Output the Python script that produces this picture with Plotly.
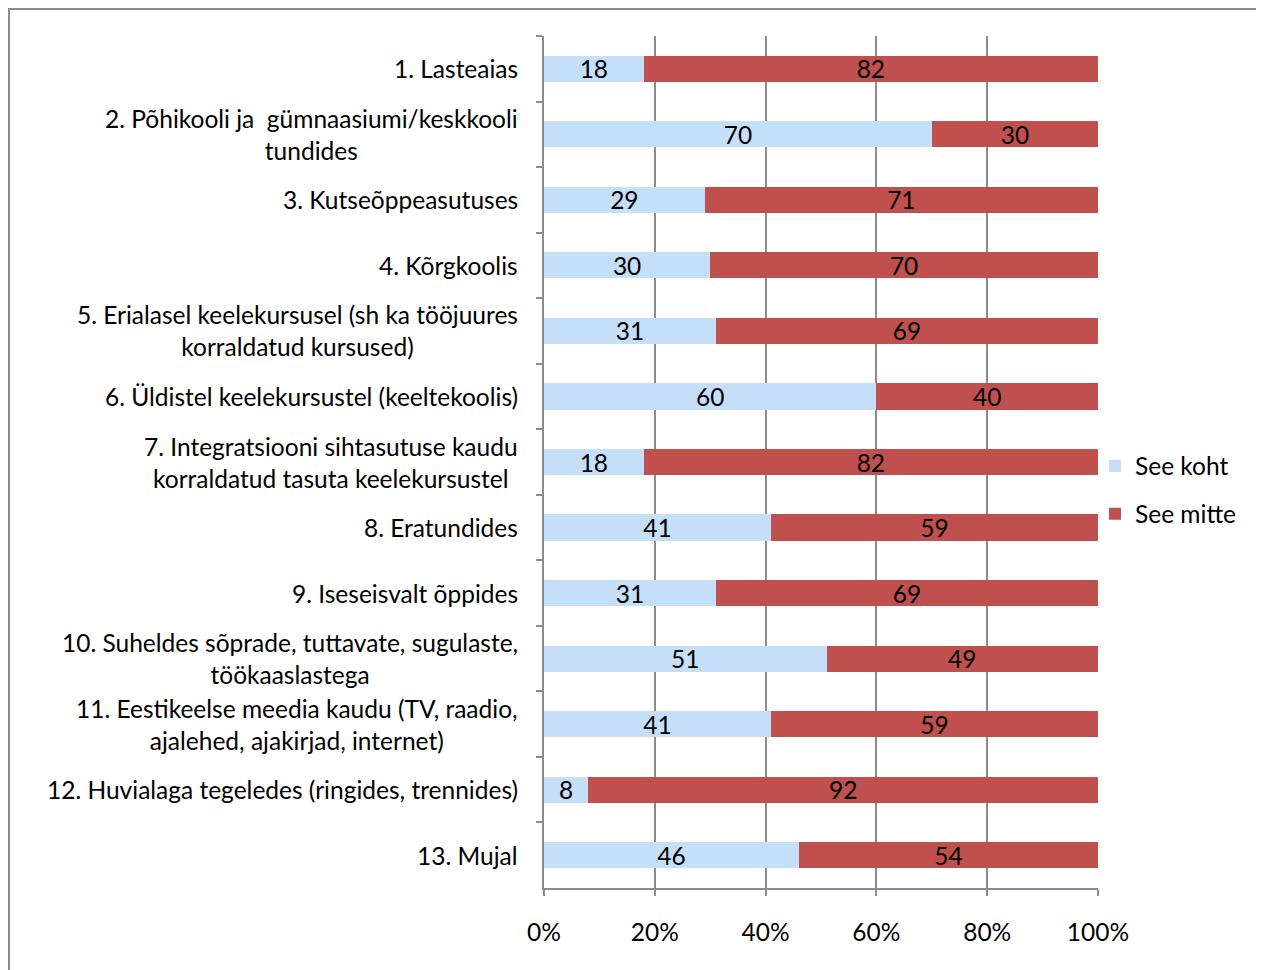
import plotly.graph_objects as go

categories = [
    "1. Lasteaias",
    "2. Põhikooli ja  gümnaasiumi/keskkooli<br>tundides",
    "3. Kutseõppeasutuses",
    "4. Kõrgkoolis",
    "5. Erialasel keelekursusel (sh ka tööjuures<br>korraldatud kursused)",
    "6. Üldistel keelekursustel (keeltekoolis)",
    "7. Integratsiooni sihtasutuse kaudu<br>korraldatud tasuta keelekursustel",
    "8. Eratundides",
    "9. Iseseisvalt õppides",
    "10. Suheldes sõprade, tuttavate, sugulaste,<br>töökaaslastega",
    "11. Eestikeelse meedia kaudu (TV, raadio,<br>ajalehed, ajakirjad, internet)",
    "12. Huvialaga tegeledes (ringides, trennides)",
    "13. Mujal",
]
see_koht = [18, 70, 29, 30, 31, 60, 18, 41, 31, 51, 41, 8, 46]
see_mitte = [82, 30, 71, 70, 69, 40, 82, 59, 69, 49, 59, 92, 54]
x_ticks = [0, 20, 40, 60, 80, 100]
x_tick_labels = ["0%", "20%", "40%", "60%", "80%", "100%"]

FONT = "Lato"
FS = 24.5
OFF = 8  # page body margin
W, H = 1264 - OFF, 970 - OFF
L, R, T, B = 544 - OFF, 1098 - OFF, 36 - OFF, 888 - OFF
GRID = "#8C8C8C"

fig = go.Figure()
fig.add_trace(go.Bar(
    y=categories, x=see_koht, name="See koht", orientation="h",
    marker=dict(color="#C6DFF8", line=dict(width=0)),
    text=[str(v) for v in see_koht], textposition="inside", textangle=0,
    insidetextanchor="middle", constraintext="none", cliponaxis=False,
    textfont=dict(color="black", size=FS, family=FONT),
    legendgroup="a",
))
fig.add_trace(go.Bar(
    y=categories, x=see_mitte, name="See mitte", orientation="h",
    marker=dict(color="#C0504D", line=dict(width=0)),
    text=[str(v) for v in see_mitte], textposition="inside", textangle=0,
    insidetextanchor="middle", constraintext="none", cliponaxis=False,
    textfont=dict(color="black", size=FS, family=FONT),
    legendgroup="b",
))

for c in categories:
    fig.add_annotation(
        x=0, y=c, xref="paper", yref="y", text=c, showarrow=False,
        xanchor="right", yanchor="middle", align="center", xshift=-24,
        font=dict(family=FONT, size=FS, color="black"),
    )

pw = R - L
ph = B - T
fig.add_shape(type="rect", xref="paper", yref="paper",
              x0=(1 - L) / pw, x1=(W + 20 - L) / pw,
              y0=-(H + 20 - B) / ph, y1=1 + (T - 1) / ph,
              line=dict(color=GRID, width=2), fillcolor="rgba(0,0,0,0)", layer="below")

fig.update_layout(
    width=W, height=H,
    margin=dict(l=L, r=W - R, t=T, b=H - B, pad=0),
    barmode="stack", bargap=0.6,
    plot_bgcolor="white", paper_bgcolor="white",
    font=dict(family=FONT, size=FS, color="black"),
    uniformtext=dict(mode=False),
    legend=dict(x=(1095 - OFF - L) / pw, xanchor="left", y=1 - (490 - 36) / ph, yanchor="middle",
                traceorder="grouped", tracegroupgap=13, bgcolor="rgba(0,0,0,0)",
                font=dict(size=FS, family=FONT), itemwidth=30),
    xaxis=dict(range=[0, 100], tickvals=x_ticks, ticktext=x_tick_labels,
               showgrid=True, gridcolor=GRID, gridwidth=2,
               showline=True, linecolor=GRID, linewidth=2,
               ticks="outside", ticklen=6, tickcolor=GRID, tickwidth=2,
               ticklabelstandoff=16, zeroline=False, fixedrange=True),
    yaxis=dict(autorange="reversed", showticklabels=False, tickson="boundaries",
               ticks="outside", ticklen=6, tickcolor=GRID, tickwidth=2,
               showline=True, linecolor=GRID, linewidth=2, showgrid=False,
               fixedrange=True),
)

fig.write_html("out.html")
